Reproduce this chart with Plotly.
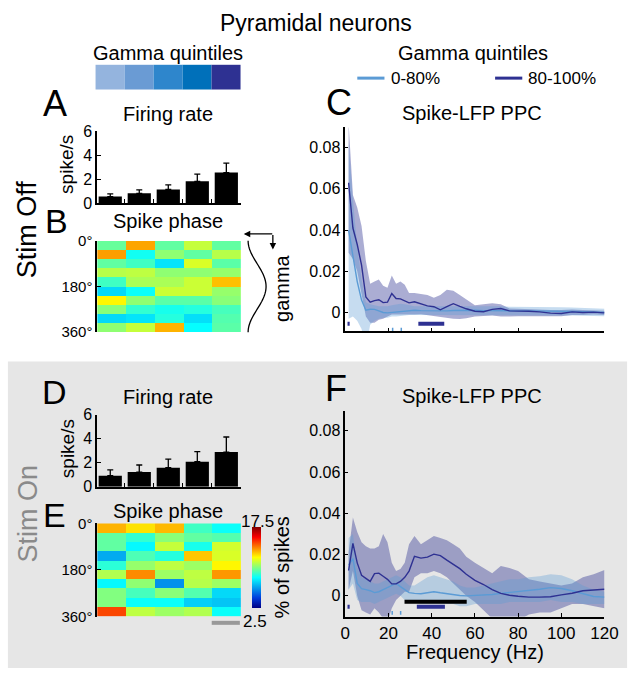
import numpy as np
import plotly.graph_objects as go

W, H = 644, 681
FONT = "Liberation Sans, Arial, sans-serif"

# ---------------- data ----------------
quintiles = [0, 1, 2, 3, 4]
quintile_colors = ["#94b4de", "#6a9bd4", "#2e86cc", "#0070ba", "#2e3192"]

fr_off = [0.54, 0.81, 1.14, 1.82, 2.55]
fr_off_err = [0.22, 0.30, 0.38, 0.60, 0.79]
fr_on = [0.92, 1.22, 1.59, 2.08, 2.89]
fr_on_err = [0.49, 0.59, 0.71, 0.84, 1.25]

phase_centers = [18, 54, 90, 126, 162, 198, 234, 270, 306, 342]
phase_ticks = [0, 180, 360]
phase_ticktext = ["0°", "180°", "360°"]

phase_off = [
    [9.6, 13.2, 9.5, 11.0, 9.5],
    [13.3, 8.3, 10.2, 9.5, 10.8],
    [9.5, 9.0, 7.6, 11.3, 9.4],
    [10.8, 10.9, 10.2, 10.2, 10.3],
    [9.0, 10.6, 10.6, 11.1, 12.8],
    [7.4, 8.2, 11.1, 11.1, 10.3],
    [12.0, 10.2, 9.4, 9.4, 10.1],
    [10.1, 8.8, 8.4, 8.6, 9.1],
    [7.4, 7.6, 8.6, 7.5, 9.3],
    [10.2, 11.0, 13.0, 8.1, 9.4],
]
phase_on = [
    [13.0, 12.3, 12.9, 9.0, 8.2],
    [9.5, 8.8, 10.1, 9.5, 9.3],
    [9.5, 8.0, 11.0, 8.4, 11.2],
    [6.5, 9.2, 8.6, 12.7, 11.3],
    [8.7, 10.3, 10.9, 10.4, 12.0],
    [10.7, 13.6, 10.4, 10.9, 13.4],
    [8.0, 10.2, 6.0, 10.8, 10.4],
    [10.0, 9.1, 10.1, 9.3, 7.4],
    [10.0, 8.2, 8.2, 7.2, 7.0],
    [14.6, 10.9, 10.4, 10.7, 8.2],
]
phase_zmin, phase_zmax = 2.5, 17.5

freq = [1.5, 3.5, 5.5, 7.5, 9.5, 11.5, 13.5, 15.5, 17.5, 19.5, 21.5, 23.5, 25.5,
        27.5, 29.5, 32, 35, 38, 41, 44, 47, 50, 53, 56, 60, 64, 68, 72, 76, 80,
        85, 90, 95, 100, 105, 110, 115, 120]
freq_ticks = [0, 20, 40, 60, 80, 100, 120]
ppc_ticks = [0, 0.02, 0.04, 0.06, 0.08]
ppc_ticktext = ["0", "0.02", "0.04", "0.06", "0.08"]

# Stim Off (C)
c_hi_mean = [0.063, 0.041, 0.033, 0.023, 0.0075, 0.005, 0.0058, 0.0062, 0.0048, 0.005,
             0.0092, 0.0068, 0.0066, 0.0058, 0.0047, 0.0052, 0.0042, 0.0032, 0.0028, 0.0013,
             0.0028, 0.0043, 0.003, 0.0018, 0.0006, 0.0004, 0.0015, 0.0019, 0.0008, 0.0008,
             0.0006, 0.0003, -0.0003, -0.0005, 0.0003, 0.0, 0.0002, -0.0002]
c_hi_up = [0.092, 0.057, 0.051, 0.042, 0.025, 0.014, 0.015, 0.016, 0.013, 0.012,
           0.018, 0.014, 0.015, 0.0135, 0.0095, 0.0095, 0.009, 0.0085, 0.0072, 0.0085,
           0.011, 0.0105, 0.0085, 0.0065, 0.0035, 0.004, 0.0045, 0.004, 0.002, 0.0018,
           0.0015, 0.0013, 0.0012, 0.0012, 0.0015, 0.0012, 0.001, 0.0008]
c_hi_lo = [0.029, 0.026, 0.020, 0.009, -0.002, -0.005, -0.005, -0.0035, -0.003, -0.002,
           -0.001, -0.0008, -0.001, -0.001, -0.001, -0.001, -0.0008, -0.001, -0.0015, -0.002,
           -0.0025, -0.003, -0.0032, -0.0028, -0.002, -0.0016, -0.0015, -0.002, -0.002, -0.0018,
           -0.0015, -0.0015, -0.0018, -0.0018, -0.0012, -0.0012, -0.001, -0.0012]
c_lo_mean = [0.040, 0.028, 0.015, 0.006, 0.0011, 0.0016, 0.0015, 0.0008, 0.0, -0.0002,
             0.0, 0.0003, 0.0003, 0.0008, 0.001, 0.0011, 0.0009, 0.0008, 0.0008, 0.0008,
             0.0008, 0.001, 0.0011, 0.0011, 0.0011, 0.0009, 0.0008, 0.0008, 0.0008, 0.0008,
             0.0008, 0.0008, 0.0006, 0.0006, 0.0005, 0.0004, 0.0002, 0.0]
c_lo_up = [0.083, 0.055, 0.032, 0.016, 0.005, 0.004, 0.0035, 0.003, 0.003, 0.003,
           0.0035, 0.004, 0.0042, 0.004, 0.0035, 0.003, 0.003, 0.003, 0.003, 0.003,
           0.003, 0.0032, 0.0033, 0.0033, 0.0032, 0.003, 0.003, 0.003, 0.0028, 0.0028,
           0.0028, 0.0027, 0.0025, 0.0025, 0.0024, 0.0022, 0.002, 0.0018]
c_lo_lo = [-0.003, -0.002, -0.004, -0.008, -0.017, -0.006, -0.004, -0.003, -0.0025, -0.0025,
           -0.002, -0.002, -0.0018, -0.0015, -0.0012, -0.0011, -0.0012, -0.0013, -0.0014, -0.0014,
           -0.0014, -0.0012, -0.0011, -0.0011, -0.0012, -0.0012, -0.0013, -0.0013, -0.0013, -0.0013,
           -0.0013, -0.0013, -0.0014, -0.0014, -0.0014, -0.0015, -0.0016, -0.0018]

# Stim On (F)
f_hi_mean = [0.0123, 0.0254, 0.016, 0.010, 0.0085, 0.007, 0.0108, 0.011, 0.0095, 0.008,
             0.0058, 0.0058, 0.007, 0.009, 0.012, 0.0192, 0.0183, 0.0188, 0.0202, 0.0195,
             0.0173, 0.0153, 0.0132, 0.0105, 0.0075, 0.0055, 0.003, 0.0012, 0.0003, -0.0002,
             -0.0006, -0.0006, -0.0004, 0.0005, 0.0013, 0.0025, 0.0028, 0.0032]
f_hi_up = [0.021, 0.038, 0.031, 0.026, 0.024, 0.023, 0.023, 0.024, 0.030, 0.026,
           0.016, 0.012, 0.013, 0.016, 0.025, 0.029, 0.025, 0.027, 0.029, 0.028,
           0.027, 0.025, 0.023, 0.019, 0.016, 0.0135, 0.011, 0.0145, 0.0135, 0.012,
           0.008, 0.007, 0.006, 0.005, 0.006, 0.009, 0.0105, 0.0125]
f_hi_lo = [0.003, 0.012, 0.0, -0.007, -0.008, -0.009, -0.006, -0.008, -0.011, -0.013,
           -0.006, -0.002, 0.0, 0.002, 0.002, 0.009, 0.011, 0.011, 0.012, 0.011,
           0.009, 0.006, 0.003, 0.0, -0.003, -0.007, -0.011, -0.013, -0.013, -0.012,
           -0.009, -0.008, -0.008, -0.006, -0.004, -0.004, -0.005, -0.006]
f_lo_mean = [0.015, 0.018, 0.006, 0.0035, 0.003, 0.0025, 0.0016, 0.002, 0.003, 0.004,
             0.005, 0.006, 0.0045, 0.003, 0.0016, 0.0012, 0.001, 0.0015, 0.002, 0.0015,
             0.001, 0.0007, 0.0002, 0.0, 0.0002, 0.0005, 0.0007, 0.0012, 0.0016, 0.0019,
             0.0025, 0.0032, 0.004, 0.0036, 0.0025, 0.001, -0.0003, -0.0006]
f_lo_up = [0.028, 0.030, 0.014, 0.009, 0.008, 0.007, 0.006, 0.006, 0.007, 0.008,
           0.009, 0.010, 0.009, 0.007, 0.005, 0.005, 0.007, 0.009, 0.010, 0.009,
           0.008, 0.007, 0.005, 0.004, 0.004, 0.005, 0.006, 0.007, 0.008, 0.008,
           0.009, 0.0095, 0.0105, 0.010, 0.008, 0.005, 0.003, 0.002]
f_lo_lo = [0.003, 0.006, -0.002, -0.003, -0.003, -0.003, -0.004, -0.003, -0.002, -0.001,
           0.0, 0.001, 0.0, -0.002, -0.003, -0.003, -0.004, -0.004, -0.004, -0.004,
           -0.004, -0.004, -0.005, -0.005, -0.004, -0.004, -0.004, -0.004, -0.003, -0.003,
           -0.003, -0.003, -0.002, -0.003, -0.003, -0.004, -0.004, -0.004]

# significance markers
c_sig_dark = [[1.0, 2.0], [33.8, 45.8]]
c_sig_light = [21.9, 25.9]
f_sig_black = [[27.4, 56.2]]
f_sig_dark = [[1.0, 2.0], [33.1, 46.1]]
f_sig_light = [21.7, 25.6]

# ---------------- styles ----------------
DARK = "rgb(46,49,146)"
DARK_FILL = "rgba(46,49,146,0.40)"
LIGHT = "rgb(91,155,213)"
LIGHT_FILL = "rgba(91,155,213,0.35)"


def px(x):
    return x / W


def py(y):
    return 1 - y / H


fig = go.Figure()

# ---- bars ----
for ax, vals, errs in [("", fr_off, fr_off_err), ("4", fr_on, fr_on_err)]:
    fig.add_trace(go.Bar(
        x=quintiles, y=vals, width=0.8, marker=dict(color="black", line=dict(width=0)),
        error_y=dict(type="data", array=errs, arrayminus=[0] * len(errs), symmetric=False,
                     color="black", thickness=1.3, width=3),
        xaxis="x" + ax, yaxis="y" + ax, showlegend=False, hoverinfo="skip"))

# ---- heatmaps ----
jet = [[0, "rgb(0,0,131)"], [0.125, "rgb(0,60,220)"], [0.375, "rgb(5,255,255)"],
       [0.625, "rgb(255,255,0)"], [0.875, "rgb(250,0,0)"], [1, "rgb(128,0,0)"]]
fig.add_trace(go.Heatmap(z=phase_off, x=quintiles, y=phase_centers, colorscale=jet,
                         zmin=phase_zmin, zmax=phase_zmax, showscale=False,
                         xaxis="x2", yaxis="y2", hoverinfo="skip"))
fig.add_trace(go.Heatmap(z=phase_on, x=quintiles, y=phase_centers, colorscale=jet,
                         zmin=phase_zmin, zmax=phase_zmax, showscale=True,
                         colorbar=dict(x=px(254), xanchor="left", y=py(615), yanchor="bottom",
                                       lenmode="pixels", len=81, thicknessmode="pixels",
                                       thickness=9, outlinewidth=0, showticklabels=False,
                                       ticks="", xpad=0, ypad=0),
                         xaxis="x5", yaxis="y5", hoverinfo="skip"))


# ---- PPC panels ----
def band(xa, ya, f, up, lo, color):
    fig.add_trace(go.Scatter(x=list(f) + list(f)[::-1], y=list(up) + list(lo)[::-1],
                             fill="toself", fillcolor=color, line=dict(width=0),
                             mode="lines", xaxis=xa, yaxis=ya, showlegend=False,
                             hoverinfo="skip"))


def line(xa, ya, f, m, color, w):
    fig.add_trace(go.Scatter(x=f, y=m, mode="lines", line=dict(color=color, width=w),
                             xaxis=xa, yaxis=ya, showlegend=False, hoverinfo="skip"))


def hbars(xa, ya, spans, yv, color, w):
    xs, ys = [], []
    for a, b in spans:
        xs += [a, b, None]
        ys += [yv, yv, None]
    fig.add_trace(go.Scatter(x=xs, y=ys, mode="lines", line=dict(color=color, width=w),
                             xaxis=xa, yaxis=ya, showlegend=False, hoverinfo="skip"))


def vticks(xa, ya, xs0, y0, y1, color):
    xs, ys = [], []
    for a in xs0:
        xs += [a, a, None]
        ys += [y0, y1, None]
    fig.add_trace(go.Scatter(x=xs, y=ys, mode="lines", line=dict(color=color, width=1.5),
                             xaxis=xa, yaxis=ya, showlegend=False, hoverinfo="skip"))


band("x3", "y3", freq, c_hi_up, c_hi_lo, DARK_FILL)
band("x3", "y3", freq, c_lo_up, c_lo_lo, LIGHT_FILL)
line("x3", "y3", freq, c_lo_mean, LIGHT, 1.4)
line("x3", "y3", freq, c_hi_mean, DARK, 1.4)
hbars("x3", "y3", c_sig_dark, -0.0055, DARK, 4)
vticks("x3", "y3", c_sig_light, -0.0074, -0.0092, LIGHT)

band("x6", "y6", freq, f_hi_up, f_hi_lo, DARK_FILL)
band("x6", "y6", freq, f_lo_up, f_lo_lo, LIGHT_FILL)
line("x6", "y6", freq, f_lo_mean, LIGHT, 1.4)
line("x6", "y6", freq, f_hi_mean, DARK, 1.4)
hbars("x6", "y6", f_sig_black, -0.0028, "black", 4)
hbars("x6", "y6", f_sig_dark, -0.0053, DARK, 4)
vticks("x6", "y6", f_sig_light, -0.0073, -0.0092, LIGHT)

# ---------------- axes ----------------
axbase = dict(showline=True, linecolor="black", linewidth=1.5, ticks="inside",
              tickcolor="black", tickwidth=1.3, ticklen=4, showgrid=False, zeroline=False,
              tickfont=dict(family=FONT, size=16, color="black"))

bar_x = dict(axbase, range=[-0.45, 4.5], tickvals=[0.5, 1.5, 2.5, 3.5, 4.5],
             showticklabels=False)
bar_y = dict(axbase, range=[0, 6], tickvals=[0, 2, 4, 6])
hm_x = dict(visible=False, range=[-0.5, 4.5])
hm_y = dict(axbase, range=[360, 0], tickvals=phase_ticks, ticktext=phase_ticktext,
            tickfont=dict(family=FONT, size=15, color="black"))
ppc_x = dict(axbase, range=[0, 120], tickvals=freq_ticks, ticklen=4)
ppc_y = dict(axbase, tickvals=ppc_ticks, ticktext=ppc_ticktext, ticklen=3,
             tickfont=dict(family=FONT, size=16, color="black"))

L, R = px(95), px(243)
CL, CR = px(350.7), px(617.7)
fig.update_layout(
    xaxis=dict(bar_x, domain=[L, R], anchor="y"),
    yaxis=dict(bar_y, domain=[py(199.3), py(125.7)], anchor="x"),
    xaxis2=dict(hm_x, domain=[L, R], anchor="y2"),
    yaxis2=dict(hm_y, domain=[py(331.7), py(238.3)], anchor="x2"),
    xaxis3=dict(ppc_x, domain=[CL, CR], anchor="y3", showticklabels=False),
    yaxis3=dict(ppc_y, domain=[py(331), py(121.7)], range=[-0.0091, 0.0898], anchor="x3"),
    xaxis4=dict(bar_x, domain=[L, R], anchor="y4"),
    yaxis4=dict(bar_y, domain=[py(490.7), py(416.7)], anchor="x4"),
    xaxis5=dict(hm_x, domain=[L, R], anchor="y5"),
    yaxis5=dict(hm_y, domain=[py(624), py(528.3)], anchor="x5"),
    xaxis6=dict(ppc_x, domain=[CL, CR], anchor="y6", showticklabels=True,
                tickfont=dict(family=FONT, size=17, color="black")),
    yaxis6=dict(ppc_y, domain=[py(624), py(412.7)], range=[-0.0100, 0.0897], anchor="x6"),
)

# ---------------- shapes ----------------
shapes = [dict(type="rect", xref="paper", yref="paper", x0=px(3), x1=px(641),
               y0=py(677), y1=py(362), fillcolor="#e6e6e6", line=dict(width=0),
               layer="below")]
bx0, bx1 = 93.3, 242.7
bw = (bx1 - bx0) / len(quintile_colors)
for i, c in enumerate(quintile_colors):
    shapes.append(dict(type="rect", xref="paper", yref="paper",
                       x0=px(bx0 + i * bw), x1=px(bx0 + (i + 1) * bw),
                       y0=py(82.7), y1=py(57.3), fillcolor=c, line=dict(width=0)))
shapes.append(dict(type="line", xref="paper", yref="paper", x0=px(363), x1=px(391),
                   y0=py(71), y1=py(71), line=dict(color=LIGHT, width=3)))
shapes.append(dict(type="line", xref="paper", yref="paper", x0=px(505), x1=px(533),
                   y0=py(71), y1=py(71), line=dict(color=DARK, width=3)))
# schematic gamma cycle next to panel B
th = np.linspace(0, 2 * np.pi, 60)
gx = 250.5 + 18.5 * (1 - np.cos(th)) / 2
gy = 238 + th / (2 * np.pi) * (332 - 238)
path = "M " + " L ".join(f"{px(a):.5f},{py(b):.5f}" for a, b in zip(gx, gy))
shapes.append(dict(type="path", xref="paper", yref="paper", path=path,
                   line=dict(color="black", width=1.3)))
# grey scale bar under E
shapes.append(dict(type="line", xref="paper", yref="paper", x0=px(213), x1=px(242),
                   y0=py(630.5), y1=py(630.5), line=dict(color="#999999", width=4)))
fig.update_layout(shapes=shapes)

# ---------------- texts ----------------
ann = []


def text(t, x, y, size, color="black", angle=0, anchor="center"):
    ann.append(dict(text=t, x=px(x), y=py(y), xref="paper", yref="paper",
                    showarrow=False, textangle=angle, xanchor=anchor, yanchor="middle",
                    font=dict(family=FONT, size=size, color=color)))


text("Pyramidal neurons", 320, 14, 23)
text("Gamma quintiles", 168, 45, 20)
text("Gamma quintiles", 482, 45, 20)
text("0-80%", 396, 71, 17, anchor="left")
text("80-100%", 537, 71, 17, anchor="left")
text("A", 52, 97, 36)
text("B", 53, 218, 34)
text("C", 344, 96, 36)
text("D", 51, 393, 34)
text("E", 51, 520, 34)
text("F", 341, 390, 36)
text("Firing rate", 168, 108, 20)
text("Spike phase", 168, 218, 20)
text("Spike-LFP PPC", 481, 107, 20)
text("Firing rate", 168, 399, 20)
text("Spike phase", 168, 516, 20)
text("Spike-LFP PPC", 481, 397, 20)
text("spike/s", 64, 160, 19, angle=-90)
text("spike/s", 64, 452, 19, angle=-90)
text("Stim Off", 23, 226, 27, angle=-90)
text("Stim On", 24, 518, 27, color="#8a8a8a", angle=-90)
text("gamma", 286, 287, 20, angle=-90)
text("17.5", 260, 526, 17)
text("2.5", 258, 629, 17)
text("% of spikes", 285, 574, 20, angle=-90)
text("Frequency (Hz)", 484, 660, 20)

# arrows of the gamma schematic
ann.append(dict(x=px(246), y=py(231), xref="paper", yref="paper", ax=30, ay=0,
                showarrow=True, arrowhead=2, arrowsize=1, arrowwidth=1.3,
                arrowcolor="black", text=""))
ann.append(dict(x=px(276), y=py(247), xref="paper", yref="paper", ax=0, ay=-16,
                showarrow=True, arrowhead=2, arrowsize=1, arrowwidth=1.3,
                arrowcolor="black", text=""))
fig.update_layout(annotations=ann)

fig.update_layout(width=W, height=H, margin=dict(l=0, r=0, t=0, b=0),
                  paper_bgcolor="white", plot_bgcolor="rgba(0,0,0,0)",
                  showlegend=False, bargap=0.2,
                  font=dict(family=FONT, color="black"))

fig.write_html("out.html", config={"displayModeBar": False},
               post_script="document.body.style.margin='0px';"
                           "document.body.style.overflow='hidden';")
